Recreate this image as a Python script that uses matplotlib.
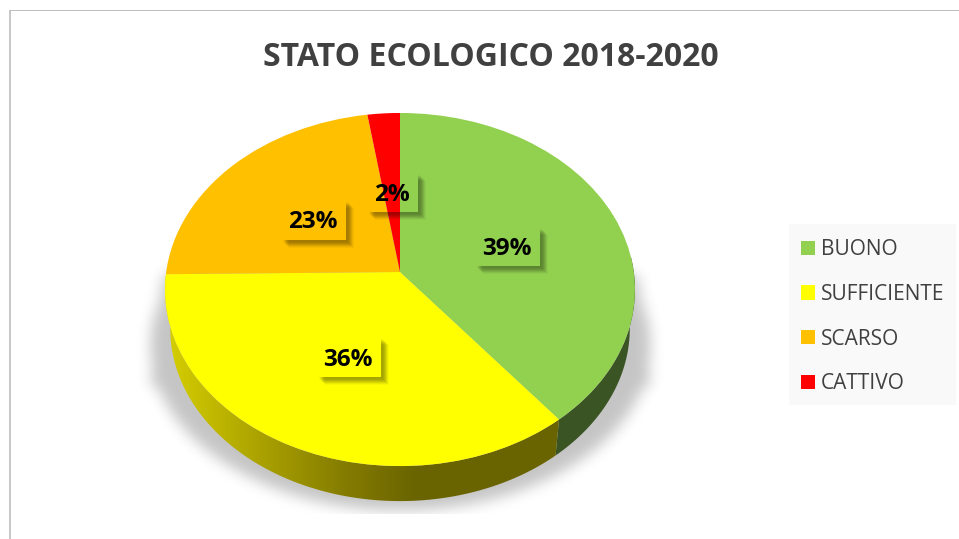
import numpy as np
import matplotlib
matplotlib.use("Agg")
import matplotlib.pyplot as plt
from matplotlib.patches import Polygon, Patch, Rectangle
from matplotlib.transforms import Transform
from matplotlib.colors import LinearSegmentedColormap

categories = ["BUONO", "SUFFICIENTE", "SCARSO", "CATTIVO"]
values = [39.2, 35.6, 22.75, 2.45]
colors = ["#92D050", "#FFFF00", "#FFC000", "#FF0000"]
title = "STATO ECOLOGICO 2018-2020"

W, H = 959, 539
CX, CY, RX, RY, K = 400.0, 272.0, 233.8, 174.8, 0.0992
DEPTH, SHRINK = 39.3, 0.978
FONT = "Open Sans"


class Perspective(Transform):
    input_dims = output_dims = 2
    is_separable = False
    has_inverse = False

    def transform_non_affine(self, xy):
        xy = np.asarray(xy, float)
        w = 1 + K * xy[:, 1]
        return np.column_stack([CX + RX * xy[:, 0] / w, CY - RY * xy[:, 1] / w])


persp = Perspective()


def rim(t0, t1, lower=False, n=120):
    t = np.radians(np.linspace(t0, t1, n))
    p = persp.transform_non_affine(np.column_stack([np.sin(t), np.cos(t)]))
    if lower:
        p[:, 0] = CX + (p[:, 0] - CX) * SHRINK
        p[:, 1] = CY + DEPTH + (p[:, 1] - CY) * SHRINK
    return p


fig = plt.figure(figsize=(W / 100, H / 100), dpi=100, facecolor="white")
ax = fig.add_axes([0, 0, 1, 1])

wedges, _ = ax.pie(values, colors=colors, startangle=90, counterclock=False,
                   wedgeprops={"linewidth": 0, "zorder": 5})
for w_ in wedges:
    w_.set_transform(persp + ax.transData)

# soft ground shadow
yy, xx = np.mgrid[0:H, 0:W]
mask = (((xx - 400) / 250.0) ** 2 + ((yy - 345) / 165.0) ** 2 <= 1).astype(float)
frac = np.clip((yy - 275) / 110.0, 0, 1)
half = 237 + 13 * frac
mask[(np.abs(xx - 400) <= half) & (yy >= 275) & (yy <= 385)] = 1
kernel = np.exp(-0.5 * (np.arange(-30, 31) / 7.0) ** 2)
kernel /= kernel.sum()
blur = np.apply_along_axis(lambda r: np.convolve(r, kernel, mode="same"), 0, mask)
blur = np.apply_along_axis(lambda r: np.convolve(r, kernel, mode="same"), 1, blur)
gray = 1 - 0.23 * blur
gray[yy > 513] = 1
ax.imshow(gray, cmap="gray", vmin=0, vmax=1, extent=(0, W, H, 0), aspect="auto", zorder=0,
          interpolation="nearest")

# side walls: only the front arc is visible, slice boundaries follow the data
edges = 360 * np.cumsum([0] + values) / np.sum(values)
front = np.clip(edges, 85, 272)
wall_polys = []
for i in range(len(values)):
    wall_polys.append(np.vstack([rim(front[i], front[i + 1]),
                                 rim(front[i + 1], front[i], lower=True)]))
ax.add_patch(Polygon(wall_polys[0], closed=True, fc="#3B5423", ec="none", zorder=2))
grad = LinearSegmentedColormap.from_list("wall", [(0, "#D6CF00"), (0.25, "#A89F00"),
                                                  (0.45, "#847C00"), (0.62, "#6B6500"),
                                                  (1, "#696300")])
im = ax.imshow(np.linspace(0, 1, 400)[None, :], cmap=grad, extent=(165, 565, 510, 270),
               aspect="auto", zorder=2)
clip = Polygon(wall_polys[1], closed=True, transform=ax.transData, fc="none", ec="none")
ax.add_patch(clip)
im.set_clip_path(clip)


# data labels with soft drop shadows
def label(text, x0, y0, x1, y1):
    for o, a in zip([8, 7, 6, 5, 4, 3, 2], [.03, .05, .07, .08, .08, .06, .04]):
        pts = [(x1, y0 + o), (x1 + o, y0 + o), (x1 + o, y1 + o), (x0 + o, y1 + o), (x0 + o, y1), (x1, y1)]
        ax.add_patch(Polygon(pts, closed=True, fc="black", ec="none", alpha=a, zorder=6))
    ax.text((x0 + x1) / 2 - 0.7, (y0 + y1) / 2 + 2.5, text, ha="center", va="center", family=FONT,
            fontweight="bold", fontsize=17.5, color="black", zorder=7)


boxes = [(475, 227, 540, 266), (317, 337, 381, 377), (281, 200, 346, 240), (367, 173, 418, 212)]
for v, b in zip(values, boxes):
    label(f"{v:.0f}%", *b)

ax.text(490.5, 57, title, ha="center", va="center", family=FONT, fontweight="bold",
        fontsize=23, color="#404040", zorder=7)

# legend panel and legend
ax.add_patch(Rectangle((789, 224), 167, 181, fc="#F9F9F9", ec="none", zorder=7))
leg = ax.legend(handles=[Patch(fc=c, ec="none") for c in colors], labels=categories,
                loc="upper left", bbox_to_anchor=(801 / W, 1 - 239 / H), bbox_transform=fig.transFigure,
                prop={"family": FONT, "size": 15}, labelcolor="#404040", frameon=False,
                handlelength=0.68, handleheight=0.68, handletextpad=0.28, labelspacing=1.14,
                borderaxespad=0, borderpad=0)
leg.set_zorder(8)

# chart frame
ax.add_patch(Rectangle((9, 10), 2, H - 10, fc="#C8C8C8", ec="none", zorder=1))
ax.add_patch(Rectangle((9, 10), W - 9, 1.2, fc="#BFBFBF", ec="none", zorder=1))

ax.set_aspect("auto")
ax.set_xlim(0, W)
ax.set_ylim(H, 0)
ax.axis("off")
fig.savefig("out.png", dpi=100, facecolor="white")
